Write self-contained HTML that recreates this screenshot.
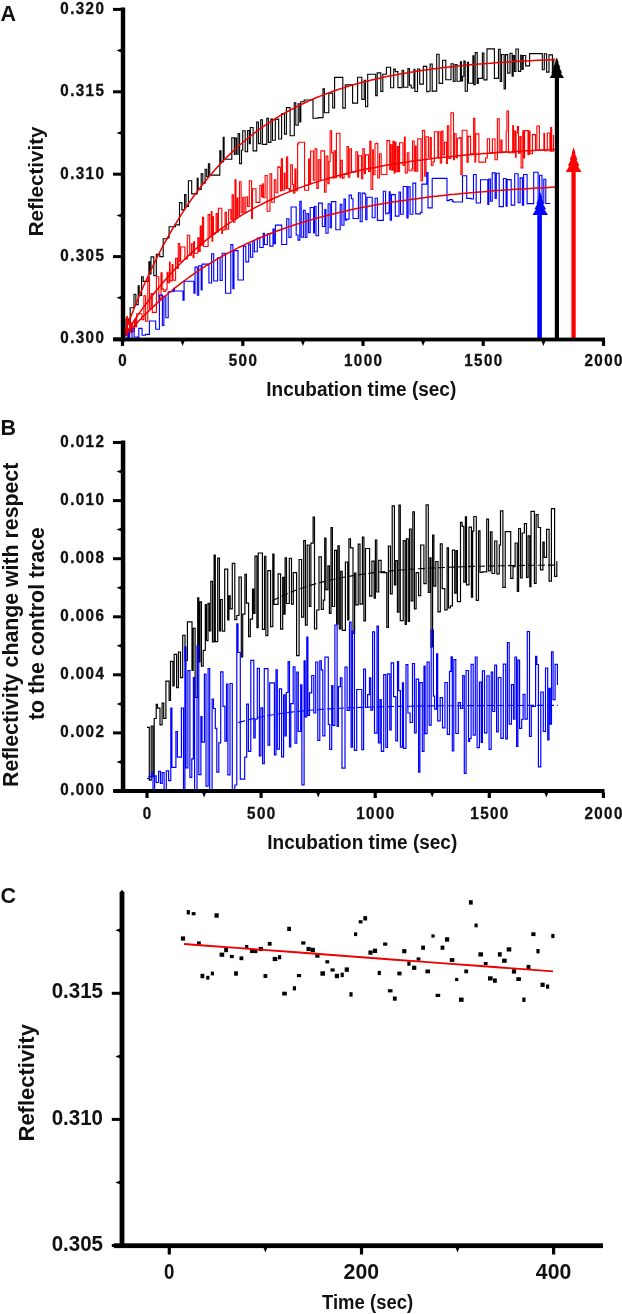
<!DOCTYPE html>
<html><head><meta charset="utf-8"><title>Reflectivity figure</title>
<style>html,body{margin:0;padding:0;background:#fff;width:622px;height:1314px;overflow:hidden}svg{display:block;filter:blur(0.4px)}</style>
</head><body>
<svg width="622" height="1314" viewBox="0 0 622 1314">
<rect width="622" height="1314" fill="#fff"/>
<!-- Panel A traces -->
<g fill="none" stroke-width="1.12" stroke-linejoin="miter">
<path d="M122.5 334.5H124.1V332.6H126V318.8H128.2V324H130.2V307.8H131.1V307.8H132.4V307.8H134V294.2H135.9V304.6H138.2V285.8H139.2V295.5H141.6V276.8H143.2V281.4H145.4V281.4H146.4V281.4H148.9V261.7H149.8V274H151V256.9H152.5V256.9H153.8V275.8H156.3V254.4H157.9V254.4H159.8V256.6H161.7V256.6H163.2V238.7H164.2V238.7H166.1V238.7H167.3V237.9H169.1V226.8H170V226.8H171.7V226.8H173.8V226.8H175.4V224.9H177.9V224.9H179.5V202.6H181.9V209.9H182.8V209.9H184.6V194.6H186V206.5H188.4V180.7H189.3V180.7H190.7V180.7H191.7V193.9H193.7V193.9H196.2V193.9H197.2V178.4H198.1V189.4H198.9V189.4H199.9V189.4H201.2V173.9H202.8V183.1H204.2V183.1H205.1V169.2H206.7V176.7H208.4V163.9H209.7V175.1H211.8V175.1H213V175.1H215.4V175.1H216.5V175.1H218.8V175.1H219.8V150.9H221V162H223.2V137.4H224.1V159.2H225V159.2H226.6V159.2H228.8V159.2H229.9V159.2H231.8V137.7H234.3V154.4H235.1V138.1H236.6V154.2H238.1V133.5H239.6V163.6H241.5V150.2H242.7V130.8H245.2V151.8H247.6V130.5H249.3V143.6H250.3V127.5H251.4V127.5H253.1V150.9H255.5V150.9H256.7V122H258.4V143.6H260.7V119.7H262.4V144.4H264.3V144.4H266.8V118.4H268.4V142.4H270.9V119.1H272.5V140.2H274V140.2H275.3V119.1H277.3V119.1H278.7V139H280.4V139H281.6V113.9H283.3V113.9H284.5V134.1H286.4V107.6H288.8V107.6H290.1V135.8H291.2V135.8H293.3V135.8H294.3V102.8H295.8V125.2H298.2V103.7H299.8V121.9H300.8V101.8H301.9V101.8H304.2V100H306.1V100H307.2V100H308.7V100H309.9V100H311.8V100H313V118.3H314.9V118.3H317V118.3H318V117.6H319.8V117.6H322V117.6H323V88.9H324.4V112.8H325.6V112.8H327.8V112.8H328.8V93.1H330.8V93.1H332.7V108H334.6V77.4H336.7V77.4H338.2V77.4H339.4V77.4H340.4V77.4H342.8V108.1H345.3V84.9H347.7V84.9H350.2V84.9H352.6V103.1H354.3V103.1H355.8V103.1H357.6V77.3H359.7V77.3H361.8V99.4H362.7V99.4H364.2V80.4H365.5V106.7H367.7V74.3H369.7V74.3H371.2V74.3H373.5V74.3H374.6V74.3H375.7V95.6H377.2V72.9H378.4V72.9H380.8V91.4H382.8V74.2H383.9V74.2H386.4V67.2H387.3V67.2H388.5V67.2H390.6V87.7H392.3V87.7H393.7V69.1H395.3V71.6H396.8V71.6H397.9V87.6H400.1V87.6H402.1V70.2H403.6V87.2H404.6V87.2H406.6V87.2H407.9V68.6H409.4V85.1H411.2V88H412.5V88H414V69.2H414.9V91.5H416.4V91.5H417.5V69H419.7V84.1H421.1V84.1H423.3V66.4H424.8V66.4H425.8V66.4H426.7V91.7H428.7V91.2H430.1V64H432.2V91.1H433.6V91.1H435.1V91.1H436.7V54.3H439.1V83.4H441.1V83.4H442.6V60.3H444.7V60.3H445.8V79.7H447.9V79.7H449.1V79.7H451V63.8H453.3V81.4H455.1V64.6H457V81.2H458.2V81.2H460.4V61.8H461.4V80.9H462.6V76.2H463.9V61.1H465.2V91.3H467.4V62.4H468.5V83.2H470.7V83.2H472.9V55.8H473.8V84.6H475.2V52.6H476.1V52.6H477.2V83.5H478.3V78.4H479.9V78.4H482.4V53.1H483.9V79.9H485.8V79.9H487V48.9H489.1V48.9H491.3V48.9H492.4V48.9H494.4V78.4H496.2V78.4H497.4V78.4H498.5V49.2H500.2V81.5H501.6V54.5H504.1V89H505.5V54.6H507.7V73.1H510V53.2H512.1V76.1H513.2V55.6H514.5V71.5H515.9V49H518.3V71.4H520.7V55.2H522V69.5H523.2V55.5H525.7V65.9H527.7V65.9H529.6V53.6H530.7V53.6H532.5V53.6H534.2V53.6H536V53.6H537.9V53.6H539.9V53.6H542.3V69.7H544.3V53.8H546.6V72.1H549V54.9H550.3V54.9H552.4V76.7H553.8V58.5" stroke="#000"/>
<path d="M122.5 329.9H123.3V329.9H124.3V329.9H125.9V335.4H126.7V316.6H127.4V334.1H128V334.1H129.7V318.1H130.4V332.1H131.2V323.1H132.3V332H132.9V330.9H134.4V319.2H135.6V326.8H136.7V313.8H138.2V313.8H139.5V313.8H140.9V313.8H141.9V319.6H142.7V319.6H143.9V295.7H145.6V321.2H146.2V321.2H147.8V277.9H149.5V308.8H151.1V293.6H152.3V312.4H153.1V312.4H154.7V312.4H156.4V276.7H157.4V276.7H158.8V300.9H159.7V298.6H161V272.8H162.1V289.1H163.7V291.4H164.8V291.4H165.8V289.5H167.1V272.4H168.1V282.7H169.5V262.1H170.1V280.9H171.1V280.9H172.1V264.6H173V280.2H174.4V280.2H175.6V258.2H177.2V268.4H178.3V243.6H179.7V261.4H180.7V247H181.7V247H183.2V247H184.9V258.9H185.9V258.9H187.3V235.2H188.7V235.2H189.7V255.3H190.5V255.3H191.5V243.8H193.1V257.7H193.9V241.5H194.5V253.3H196V253.3H196.8V253.3H197.8V237.8H199V251.4H200.2V226.1H201.3V245.1H202.5V217.2H203.6V246.5H204.4V246.5H205.1V246.5H205.8V246.5H206.7V246.5H208.1V214.6H209.7V236.4H211.3V211.6H212V241.1H212.7V216.8H213.5V234.4H214.8V232.8H216.1V213.6H217.4V231.9H218.4V208.3H219.5V208.3H220.8V208.3H221.8V233.4H222.5V229.9H224.1V229.9H225.1V212.4H226.4V229.3H227.6V229.3H228.6V209.8H229.4V209.8H230.1V209.8H230.9V219.4H232.1V194.8H233.4V222.3H235V179.8H236V218.7H237.2V198.1H238V215.1H239.5V181.8H241.1V212.8H242.7V197.2H243.4V197.2H244.1V212.7H245.8V197.1H247.6V206.4H249.3V180.7H250.4V180.7H251.6V218.4H252.5V188.7H253.6V188.7H255V188.7H256V202.4H257.6V202.4H259.2V202.4H259.9V185.4H261.6V196.7H262.8V183.9H263.4V197.8H265.1V175.5H266.1V175.5H267.1V211.3H268.4V211.3H270V173.7H271.7V202.3H273.2V202.2H274.3V179.9H275.9V192.8H276.6V192.8H277.8V166.9H279.3V167.5H280.5V191H281.3V158.9H282.5V190.2H284.2V173.1H285V188.8H286.5V157H287.7V188.5H289.4V191.2H290.7V164.7H292.4V184.4H293.5V192.9H294.9V169.1H296V190.8H297.6V143.9H298.7V142.2H300.4V142.2H301.9V142.2H303.2V142.2H304.6V190.3H305.6V190.3H306.6V190.3H307.6V190.3H308.6V159.1H309.4V184.5H310.6V151H311.7V151H313.4V180.3H315V148.7H315.6V148.7H316.8V188.4H318.3V159.8H319.3V159.8H320V180.3H320.9V150.9H322.2V150.9H323.8V150.9H324.5V192.1H326.1V156.1H327.8V183.6H329.1V161.5H330.1V130.7H331.6V152.9H333.2V178.2H334V150.8H335.5V177.6H336.4V133.3H338.2V133.3H340V177.6H340.8V160.4H342.4V178.1H344.1V174.4H345.2V174.4H347V146.5H348.4V177.2H349.8V148.8H351.5V171.9H353.1V171.9H354.8V171.9H355.9V151.7H357V151.7H357.6V176.9H358.6V155.7H360.3V155.7H361.5V178.6H362.8V148.9H364.3V173.4H365.5V154.9H366.7V154.9H368.5V171.5H369.8V141.4H371V189.5H372.7V149.8H373.4V174.8H375V143.7H376.3V143.2H377.8V178H379.5V153.7H381.2V174.5H383V174.5H384.5V174.5H385.3V174.5H386.9V140.6H388.5V140.6H389.7V169.8H390.5V144.7H391.8V170.3H392.9V141.2H394.1V173.2H394.8V142.1H395.9V171.7H397.3V146.6H398.5V171.6H399.6V142.7H401.2V142.7H402.9V165.5H404.4V137.1H405.2V172.9H406.3V172.9H407.3V152.9H408.9V170.7H410.4V170.7H411.8V169H412.5V141H414.2V171.3H415.4V146H416.2V171.2H417.7V138.7H419.5V138.7H421V181H421.8V181H422.5V130.6H423.3V130.4H424.7V176.1H426V136.8H427.4V136.8H428.4V157.3H430.1V137.6H431.3V165.5H433V161.9H434.4V131.7H435.3V131.7H436.2V131.7H437.2V131.7H437.8V157.6H438.5V131.7H440.3V162.9H441.7V131.1H443V155H444.5V142.2H445.7V142.2H446.5V163.5H447.4V125.9H448.8V158.5H450.2V158.5H450.9V112.8H452.3V112.8H453.5V159.8H454.4V133.8H456.1V157.7H457.3V138.2H458.7V138.2H459.8V137.6H460.9V174.8H462.2V130.2H463V130.2H464.7V130.2H465.6V130.2H467V162.1H468.2V136.4H469.8V136.4H470.6V153.7H472.4V153.7H473.6V118.4H474.9V161.9H475.7V133.9H477.1V133.9H478.9V162.1H480.6V162.1H481.8V162.1H483.2V162.1H483.9V162.1H485.6V158H487.3V138.8H488.3V138.8H489.6V153.4H491.3V153.4H492.4V139H493.7V139H495V159.8H496.2V159.8H497.4V118.7H499.2V152.3H500.8V140H502V152H503.6V152.3H505V152.3H506.2V131.3H506.9V111.1H507.8V111.1H508.5V152.6H509.3V152.7H510.9V152.7H512.7V125.7H513.5V152.7H514.2V131.1H515.5V157.1H516.1V132.9H517.4V126.5H518.5V153.1H519.9V136.5H521.1V167.9H522.8V130.9H523.7V157.9H524.6V130.6H526.2V130.6H528V154.7H529V131.1H530V153.8H531.3V153.8H532.4V134.6H533.8V134.6H535.5V150.3H536.9V126H538.7V126H539.4V150.3H541.1V150.3H542.1V150.3H542.9V150.3H543.9V133.2H544.6V150.6H545.6V150.6H547.3V133H548.2V133H549.1V133H549.9V151.2H550.7V127.6H551.7V151.3H553.5V134.9" stroke="#f00"/>
<path d="M122.5 332.3H124.8V332.3H126V332.3H127.2V338H128.6V329.3H129.5V338.7H132V328.4H134.1V337H135.5V337H137.7V337.4H138.8V328.4H140.5V328.4H142.1V335.3H143.3V335.3H144.5V335.3H145.5V334.4H147.8V334.4H149.4V321H151.5V321H153.7V321H155.7V329.2H157.7V329.2H159.4V295.1H161.2V295.1H162.4V325.4H163.9V296.3H165.8V317.8H168.2V291.8H170.5V291.8H171.9V291.8H173.7V288.4H174.5V291H176.8V291H178.7V291H179.9V291H181.1V291H182V291H183V300.3H184.1V281.3H185.7V281.3H188V281.3H190.2V281.3H191.6V281.3H192.5V281.3H193.9V293.3H195V267.1H196.1V267.1H197.3V295.3H198.7V265.8H201.2V290H202.1V264.1H204.2V264.1H205.7V264.1H207.5V264.1H208.9V283H210.2V283H211.6V253.7H213.7V281H215.2V281H216.3V281H217.6V257.7H220.1V280.4H222.2V253.2H224V253.2H225.5V293.3H226.6V293.3H228.4V293.3H230.8V244.6H232.9V288.8H234V250.6H236.4V250.6H238V280H240.1V280H241.3V280H243.4V246.1H245.8V261.9H247.6V261.9H248.7V244.1H250.5V257.2H252.8V240.8H254.4V251.7H256.3V251.7H257.3V238H259.8V247.5H260.8V247.5H261.9V247.5H263.2V233.4H264.4V244.5H265.4V244.5H266.6V244.5H267.4V233.9H269.8V246.1H272V246.1H273V229H274.1V243.6H275.4V225.1H277.5V225.1H279.4V225.1H281.7V244.5H283.1V244.5H284.6V244.5H286.7V218.8H288.1V218.8H288.9V237.4H291.1V207H292.4V207H294.8V207H296.2V235H298V240.1H299.8V201.3H301.2V237.2H303.4V210.2H305.2V237.5H306.9V213.5H308.6V232.8H310.2V207.5H312V207.5H313.6V233H314.5V206.2H316V235.8H318.5V203.1H320.2V203.1H322.3V226.5H324.8V209.5H325.9V233.2H328.1V203.8H330.1V227.8H331.4V201.6H333.1V201.6H334.9V201.6H335.8V229.8H338.3V229.8H340.2V204.4H341.9V225.3H344V199.1H345.4V220.2H346.6V219.1H349.1V195.1H351.4V198.8H353V218.5H354.6V218.5H356.9V218.5H358.4V192.7H360.2V221.7H362.2V193.1H364.6V194H365.7V219.6H367V197.3H368.8V197.3H369.7V197.3H372.2V217.8H374.1V217.8H375.1V198.2H376V198.2H377.4V220.4H379.8V220.4H382.2V220.4H383.3V191.2H385.6V213.8H386.6V213.8H388V212.9H389.2V191.8H390.2V220.3H391.5V194.6H393.2V194.6H394.1V194.6H395.3V216.1H397V216.1H399V192H400.5V214.3H402.1V214.3H403.2V186.5H405.1V186.5H406.9V218H408.1V186.9H410.1V214.2H411.6V214.2H412.9V183.1H414.6V183.1H415.7V213.9H418V213.9H420.4V212.4H421.9V184.1H424.3V184.1H426.8V172.5H428V207.9H430.1V207.9H432.2V178.4H434.5V178.4H436.9V178.4H438.8V178.4H440V178.4H442.5V178.4H443.4V178.4H445.3V178.4H447V200.6H449.3V199.6H451.1V199.6H452.3V201.4H453.5V202H455.3V202H457.3V202H459.7V202H461.6V202H462.5V175.7H464.1V175.7H465.8V175.7H466.7V198.4H468.9V198.4H471.1V199H473.5V174.5H475.2V174.5H476.2V203H478.6V203H480.5V179.8H481.9V179.8H483.1V179.8H485.4V179.8H487.8V204.4H488.8V179.1H490.4V201.3H492.2V172.9H493.6V172.9H495.1V198.5H496.3V173.3H497.3V173.3H499.2V206.6H500.8V206.6H502.6V206.6H503.4V178.5H505.1V178.5H506.1V206.1H507.1V179.6H509.4V179.6H511.2V205.1H513.2V205.1H514.7V173.7H516.5V173.7H518.1V202.8H520.1V177.9H522.4V205.2H523.6V174.5H525.1V174.5H527.1V203.6H529.5V203.6H532V203.6H533.7V172.2H535.6V172.2H538.1V206.2H539.6V175.2H542V203.5H543.8V179.3H545.8V203.5H547V203.5H548.9V203.5H550.4V203.5" stroke="#00f"/>
<path d="M122.5 339L126.1 329.1L129.7 319.6L133.3 310.4L136.9 301.5L140.5 292.9L144.1 284.7L147.8 276.7L151.4 269L155 261.6L158.6 254.4L162.2 247.4L165.8 240.8L169.4 234.3L173 228.1L176.6 222.1L180.2 216.3L183.8 210.7L187.4 205.3L191 200L194.6 195L198.3 190.2L201.9 185.5L205.5 180.9L209.1 176.6L212.7 172.4L216.3 168.3L219.9 164.4L223.5 160.6L227.1 156.9L230.7 153.4L234.3 150L237.9 146.7L241.5 143.5L245.2 140.4L248.8 137.5L252.4 134.6L256 131.9L259.6 129.2L263.2 126.6L266.8 124.2L270.4 121.8L274 119.5L277.6 117.2L281.2 115.1L284.8 113L288.4 111L292.1 109.1L295.7 107.2L299.3 105.4L302.9 103.7L306.5 102L310.1 100.4L313.7 98.8L317.3 97.3L320.9 95.9L324.5 94.5L328.1 93.1L331.7 91.8L335.3 90.5L338.9 89.3L342.6 88.1L346.2 87L349.8 85.9L353.4 84.8L357 83.8L360.6 82.8L364.2 81.9L367.8 81L371.4 80.1L375 79.2L378.6 78.4L382.2 77.6L385.8 76.8L389.5 76.1L393.1 75.4L396.7 74.7L400.3 74L403.9 73.4L407.5 72.8L411.1 72.2L414.7 71.6L418.3 71L421.9 70.5L425.5 70L429.1 69.5L432.7 69L436.4 68.5L440 68.1L443.6 67.6L447.2 67.2L450.8 66.8L454.4 66.4L458 66L461.6 65.7L465.2 65.3L468.8 65L472.4 64.6L476 64.3L479.6 64L483.2 63.7L486.9 63.4L490.5 63.2L494.1 62.9L497.7 62.6L501.3 62.4L504.9 62.2L508.5 61.9L512.1 61.7L515.7 61.5L519.3 61.3L522.9 61.1L526.5 60.9L530.1 60.7L533.8 60.5L537.4 60.3L541 60.2L544.6 60L548.2 59.9L551.8 59.7L555.4 59.6" stroke="#e00" stroke-width="1.5"/>
<path d="M122.5 339L126.1 333.1L129.7 327.5L133.3 321.9L136.9 316.6L140.5 311.4L144.1 306.4L147.8 301.5L151.4 296.8L155 292.2L158.6 287.7L162.2 283.4L165.8 279.2L169.4 275.2L173 271.2L176.6 267.4L180.2 263.7L183.8 260.1L187.4 256.6L191 253.2L194.6 250L198.3 246.8L201.9 243.7L205.5 240.7L209.1 237.8L212.7 235L216.3 232.3L219.9 229.6L223.5 227.1L227.1 224.6L230.7 222.2L234.3 219.8L237.9 217.6L241.5 215.3L245.2 213.2L248.8 211.1L252.4 209.1L256 207.2L259.6 205.3L263.2 203.5L266.8 201.7L270.4 200L274 198.3L277.6 196.7L281.2 195.1L284.8 193.6L288.4 192.1L292.1 190.7L295.7 189.3L299.3 187.9L302.9 186.6L306.5 185.3L310.1 184.1L313.7 182.9L317.3 181.8L320.9 180.6L324.5 179.6L328.1 178.5L331.7 177.5L335.3 176.5L338.9 175.5L342.6 174.6L346.2 173.7L349.8 172.8L353.4 172L357 171.1L360.6 170.3L364.2 169.5L367.8 168.8L371.4 168.1L375 167.4L378.6 166.7L382.2 166L385.8 165.3L389.5 164.7L393.1 164.1L396.7 163.5L400.3 162.9L403.9 162.4L407.5 161.9L411.1 161.3L414.7 160.8L418.3 160.3L421.9 159.9L425.5 159.4L429.1 159L432.7 158.5L436.4 158.1L440 157.7L443.6 157.3L447.2 156.9L450.8 156.5L454.4 156.2L458 155.8L461.6 155.5L465.2 155.1L468.8 154.8L472.4 154.5L476 154.2L479.6 153.9L483.2 153.6L486.9 153.4L490.5 153.1L494.1 152.8L497.7 152.6L501.3 152.4L504.9 152.1L508.5 151.9L512.1 151.7L515.7 151.4L519.3 151.2L522.9 151L526.5 150.8L530.1 150.7L533.8 150.5L537.4 150.3L541 150.1L544.6 149.9L548.2 149.8L551.8 149.6L555.4 149.5" stroke="#e00" stroke-width="1.5"/>
<path d="M122.5 339L126.1 334.8L129.7 330.7L133.3 326.8L136.9 322.9L140.5 319.2L144.1 315.5L147.8 312L151.4 308.5L155 305.1L158.6 301.8L162.2 298.6L165.8 295.5L169.4 292.5L173 289.5L176.6 286.7L180.2 283.9L183.8 281.1L187.4 278.5L191 275.9L194.6 273.4L198.3 270.9L201.9 268.6L205.5 266.2L209.1 264L212.7 261.8L216.3 259.6L219.9 257.6L223.5 255.5L227.1 253.5L230.7 251.6L234.3 249.8L237.9 247.9L241.5 246.2L245.2 244.4L248.8 242.7L252.4 241.1L256 239.5L259.6 238L263.2 236.5L266.8 235L270.4 233.5L274 232.2L277.6 230.8L281.2 229.5L284.8 228.2L288.4 226.9L292.1 225.7L295.7 224.5L299.3 223.4L302.9 222.2L306.5 221.2L310.1 220.1L313.7 219L317.3 218L320.9 217.1L324.5 216.1L328.1 215.2L331.7 214.3L335.3 213.4L338.9 212.5L342.6 211.7L346.2 210.9L349.8 210.1L353.4 209.3L357 208.5L360.6 207.8L364.2 207.1L367.8 206.4L371.4 205.7L375 205.1L378.6 204.4L382.2 203.8L385.8 203.2L389.5 202.6L393.1 202L396.7 201.5L400.3 200.9L403.9 200.4L407.5 199.9L411.1 199.4L414.7 198.9L418.3 198.4L421.9 197.9L425.5 197.5L429.1 197L432.7 196.6L436.4 196.2L440 195.8L443.6 195.4L447.2 195L450.8 194.6L454.4 194.3L458 193.9L461.6 193.5L465.2 193.2L468.8 192.9L472.4 192.6L476 192.3L479.6 191.9L483.2 191.7L486.9 191.4L490.5 191.1L494.1 190.8L497.7 190.6L501.3 190.3L504.9 190L508.5 189.8L512.1 189.6L515.7 189.3L519.3 189.1L522.9 188.9L526.5 188.7L530.1 188.5L533.8 188.3L537.4 188.1L541 187.9L544.6 187.7L548.2 187.5L551.8 187.3L555.4 187.1" stroke="#e00" stroke-width="1.5"/>
</g>
<!-- arrows -->
<rect x="537.3" y="205" width="4.6" height="136" fill="#00f"/>
<rect x="554.8" y="70" width="4.2" height="271" fill="#000"/>
<rect x="571.4" y="165" width="4.3" height="176" fill="#f00"/>
<polygon fill="#000" points="556.8,57.3 558.6,62.5 558.1,62.5 560.4,67.7 559.4,67.7 562.2,72.8 560.7,72.8 564.0,78.0 549.6,78.0 552.9,72.8 551.4,72.8 554.2,67.7 553.2,67.7 555.5,62.5 555.0,62.5"/><polygon fill="#f00" points="573.6,147.3 575.6,153.5 575.0,153.5 577.5,159.7 576.4,159.7 579.5,165.8 577.8,165.8 581.4,172.0 565.8,172.0 569.4,165.8 567.8,165.8 570.8,159.7 569.7,159.7 572.2,153.5 571.6,153.5"/><polygon fill="#00f" points="540.2,192.3 542.2,198.0 541.6,198.0 544.1,203.7 543.0,203.7 546.1,209.3 544.4,209.3 548.0,215.0 532.4,215.0 536.0,209.3 534.4,209.3 537.4,203.7 536.3,203.7 538.8,198.0 538.2,198.0"/>
<!-- Panel A axes -->
<g fill="#000">
<rect x="120.8" y="7.5" width="4.4" height="334"/>
<rect x="113" y="337.6" width="492" height="3.8"/>
</g>
<!-- Panel B traces -->
<g fill="none" stroke-width="1.18">
<path d="M147 727.4H149.3V780.1H151.2V726H152.9V776.8H154.2V718.5H156.2V704.3H157.5V708.1H160V724.9H162.1V703.2H163.7V718.3H165.9V681.2H167.2V681.2H169.1V700.5H170.5V661.3H172.9V686H174.2V654.4H176.6V687.6H178.4V652H180.5V677.7H182.7V635.3H185V660.5H187.4V621.8H189.6V621.8H192V670.3H193.2V628.3H195.1V697.5H197.7V597.8H198.8V661.9H199.9V601.9H201.4V666.1H203.2V650.3H205.3V604.6H206.4V640.6H208V603.4H209.4V631H210.8V581.3H212.5V641.9H214.1V555H215.3V641.6H217.7V558.1H219.4V630.9H220.5V599.6H222.3V631.1H224.7V569.2H225.8V569.2H227.7V620H228.9V595.8H230.2V608.8H232.3V563.3H234.8V619.7H236.8V615.5H239V577.1H241.3V657H242.7V614.1H244.9V574.3H246.4V603.1H248.6V636.7H250.3V619.1H252.5V589.2H253.7V613.3H255V556.1H256.9V627.6H258.2V553H260.3V553H262.4V629.3H264.5V556.4H265.9V635.7H267.8V570.7H269.2V570.7H270.6V626.6H272.8V554.2H274V604.3H276.3V604.3H278.1V573.9H280.6V629.2H282.7V577.3H284V614.1H285.1V557.9H286.5V603.5H287.9V603.5H289.3V558.3H291.5V604.1H293.3V572.7H294.5V572.7H296.6V655.6H299.1V559.5H301.6V617.2H303.7V540.7H305.4V625.1H307.2V545H309.3V606.4H310.9V543.1H313.1V517.1H314.5V629H316.7V610H319V556.9H321.3V609.4H323.3V600.2H324.7V538.1H326V589.6H327.9V565.8H329.4V613.3H331V527.7H332.4V606.5H334.6V550.4H336.6V624.1H337.9V545.9H339.3V628.8H340.7V571.3H342.2V630.4H343.9V630.4H345.4V562H347.7V619.9H348.9V538.8H350.5V547.9H353V633.4H354.6V573.2H355.9V604.8H358.2V544.2H360V604.1H362.4V537.2H363.9V620.9H365.5V548.5H367.6V548.5H369.6V596.2H371.9V561.2H374.1V598.1H375.4V540.1H376.8V592H378.7V560.4H381.1V572.7H382.6V572.7H385V572.7H386.8V627.4H388.4V546H390.4V593.8H392.2V505.9H394.4V584.8H395.7V560.6H397.4V612.2H398.9V505.1H400.3V620.6H401.5V620.6H403.2V540.6H405.1V624.3H406.4V538.8H408.2V621.3H409.5V529H411.2V600.9H412.8V511.8H414.4V608.9H416.1V572.6H418.6V595.6H420.7V545H422.7V545H423.9V583.7H426.1V504.8H428.3V592.5H429.9V557.9H431V646.8H432.6V535.2H433.9V586.2H435.8V561.5H438V611.9H440.3V543.8H442.2V588.6H444.8V609.9H447.1V547.9H448.5V607.8H450.4V605.8H452.4V550.2H454.7V593.1H456.1V550.6H457.4V601.6H458.5V601.6H460.5V522.3H462.1V526.4H463.8V582.1H465.4V516.8H466.5V584.9H469V527.1H471.4V597.2H472.6V531.1H473.8V516.5H476.3V600.3H478.5V530.9H480V572.4H482.5V571.8H484.3V571.8H486.7V519.1H488.5V570.8H490.4V531.9H492V573.5H493.4V573.5H494.7V541H496.9V573.9H499.3V545.2H500.5V510.8H502.9V587.3H505.2V531.6H506.3V531.6H508.2V531.6H510.7V578.4H513V566.6H515.1V543H517.3V591.4H518.6V528.5H520.5V577.8H522.2V533H524.4V523.6H526.5V577.3H528.1V535.8H529.8V586.6H531V511.3H533V511.3H534.4V583.4H536.1V514.6H538.1V527.5H540.5V569.9H542.9V542.2H544.2V557.4H546.6V529.4H549.1V581.1H551.4V508.7H553.1V508.7H554.6V576.3H556.8V561.2" stroke="#000"/>
<path d="M147 778.5H149.2V776.3H151.6V772.1H153V791H154.6V775.8H156.2V782.5H158.6V771.3H160.5V783.3H162.2V772.7H164.1V791H166.3V770.9H168.6V780.6H170.8V708.1H171.9V767.3H173.4V767.3H175.9V731.5H177.4V757.1H179.7V757.1H181.4V708H183.5V791H184.9V646.9H186V767.9H187.9V670.7H189.9V777.3H191.8V758.9H193.4V677.6H194.6V789.6H197V645.9H198.8V774.7H200.9V716.7H202V742.1H204.4V674H206V786.1H208.1V668.7H209.7V790.1H212.1V699H213.5V708.5H215.3V728.4H216.8V772.1H218.8V742.8H220.7V671.9H223V706.3H224.9V741.1H226.5V684.2H227.9V774.8H230V683.5H232.3V789.5H234.8V785H236.8V623.8H238V652.5H240.3V779.1H242.4V779.1H244.7V757.1H246.7V704.2H248.4V751.4H250.8V660.4H252V660.4H253.8V737.9H255.2V719.1H257.3V668.4H259.4V755.9H260.9V707.9H262.6V763.6H264.3V668.7H266.8V668.7H268V745.1H269.7V682.9H272.2V682.9H274.4V754.8H276V669.8H277.3V749.2H279.4V688.8H281.6V756.8H283.6V694.8H285V736H286.3V692.5H288.1V661.6H289.5V747H290.8V703.7H293.2V666.9H295V743.1H296.8V672.2H298.3V731.5H300.7V684.8H301.9V784.9H304.1V660.9H305.2V716.9H306.8V637.2H307.9V715.4H309.5V692.8H311.7V675.5H313.8V713H315.7V662H317.8V740.3H319.8V660.9H321.3V669.8H322.8V735.8H324.9V657.1H326.6V657.1H328.3V724.5H329.7V749.4H331.7V685.6H332.9V725.3H334.9V625H337.1V726.4H338.4V686.7H340.4V677.8H342V768.1H343.6V768.1H345V667.1H347.1V710.3H349.5V622.2H351.1V747.2H352.4V631H354.4V750.3H356.7V689.5H358V689.5H360.1V689.5H361.8V749.6H363.6V669.2H365.5V707.4H367.6V694.7H369.5V677.9H370.8V710.2H372.6V631.9H374.5V733.1H377V626.2H378.4V742.8H380V699.5H381.3V751.4H383.7V674.6H385.8V747.5H387.5V673.9H389.8V729.9H391.2V662.8H393.6V696.6H395.8V740.8H397.5V661.6H398.6V690.6H400.4V747.2H402.4V682.8H403.5V748.3H406V664.7H407.9V713H410.1V722.5H412.5V663.6H414.5V732.8H416.2V679.1H418.6V772.2H419.9V682.7H422.3V751.3H424V666.1H425.1V733.7H427.1V662.2H429.2V725.1H431.2V630.1H433.4V696.1H434.6V709.1H436.6V653.8H437.7V720.9H440.2V697.7H442.5V727.8H444.9V682.5H447.3V734.4H449.5V671.4H451.1V656.9H452.3V750.8H453.8V659.6H455.8V733.5H458.3V702.7H460.4V708.4H462.7V675.5H464.3V773.3H466.1V670.5H468.5V741.3H469.6V738.7H471.1V664.3H473.2V735.1H475.3V657H477.1V747.7H479.4V682.2H481.2V742.5H482.4V670.9H484.5V732.8H486.9V675.9H489.1V749.3H491.2V672H492.7V711.5H494.7V665.2H496.6V731.8H498.3V677.5H500.9V738.4H503.3V664.1H505.7V738.8H507.4V642.5H509.2V724.2H511.4V684.7H513.4V719.2H514.9V657H516.6V746.3H517.9V660.1H519.6V728.3H521.7V719.5H523.1V694.3H525V719.1H527.3V631.5H529.5V736.3H531.3V706.4H533.3V706.4H535.6V656.4H536.8V664.5H538.4V766.9H540.8V692H543.3V731.4H545.5V668H547.7V740H549V688.4H550.2V724.2H551.5V651.9H553.1V699.6H555.1V664.4H557.4V685.1" stroke="#00f"/>
<path d="M272.5 600.7L277.3 598.3L282 596L286.8 593.9L291.5 591.9L296.3 590.1L301 588.4L305.8 586.8L310.5 585.3L315.3 583.9L320.1 582.6L324.8 581.4L329.6 580.2L334.3 579.2L339.1 578.2L343.8 577.3L348.6 576.4L353.3 575.6L358.1 574.9L362.8 574.2L367.6 573.5L372.3 572.9L377.1 572.3L381.9 571.8L386.6 571.3L391.4 570.9L396.1 570.4L400.9 570L405.6 569.7L410.4 569.3L415.1 569L419.9 568.7L424.6 568.4L429.4 568.1L434.2 567.9L438.9 567.7L443.7 567.5L448.4 567.3L453.2 567.1L457.9 566.9L462.7 566.7L467.4 566.6L472.2 566.4L476.9 566.3L481.7 566.2L486.4 566.1L491.2 566L496 565.9L500.7 565.8L505.5 565.7L510.2 565.6L515 565.5L519.7 565.5L524.5 565.4L529.2 565.3L534 565.3L538.7 565.2L543.5 565.2L548.3 565.1L553 565.1L557.8 565" stroke="#000" stroke-width="1.1" stroke-dasharray="7 3"/>
<path d="M238.3 722.6L243.6 721.1L248.9 719.7L254.3 718.4L259.6 717.2L264.9 716.2L270.2 715.2L275.6 714.3L280.9 713.5L286.2 712.8L291.5 712.1L296.9 711.5L302.2 711L307.5 710.5L312.8 710L318.1 709.6L323.5 709.2L328.8 708.9L334.1 708.6L339.4 708.3L344.8 708L350.1 707.8L355.4 707.6L360.7 707.4L366.1 707.2L371.4 707L376.7 706.9L382 706.7L387.4 706.6L392.7 706.5L398 706.4L403.3 706.3L408.7 706.2L414 706.1L419.3 706.1L424.6 706L430 705.9L435.3 705.9L440.6 705.8L445.9 705.8L451.3 705.7L456.6 705.7L461.9 705.7L467.2 705.6L472.6 705.6L477.9 705.6L483.2 705.6L488.5 705.5L493.9 705.5L499.2 705.5L504.5 705.5L509.8 705.5L515.2 705.5L520.5 705.5L525.8 705.4L531.1 705.4L536.5 705.4L541.8 705.4L547.1 705.4L552.4 705.4L557.8 705.4" stroke="#00f" stroke-width="1.1" stroke-dasharray="7 3"/>
</g>
<g fill="#000">
<rect x="120.8" y="440.5" width="4.5" height="352"/>
<rect x="113.5" y="789" width="491" height="4"/>
</g>
<!-- Panel C -->
<g fill="#000"><rect x="180.9" y="936.4" width="4.2" height="4.2"/><rect x="186.7" y="910.1" width="3.2" height="4.4"/><rect x="191.7" y="912.1" width="3.8" height="3.2"/><rect x="197.0" y="941.4" width="3.8" height="3.2"/><rect x="214.5" y="913.3" width="4.2" height="4.4"/><rect x="200.5" y="973.8" width="3.8" height="4.4"/><rect x="206.2" y="975.8" width="3.2" height="3.8"/><rect x="210.8" y="971.6" width="3.2" height="3.8"/><rect x="219.6" y="952.6" width="4.6" height="4.2"/><rect x="224.2" y="947.8" width="3.8" height="4.4"/><rect x="229.9" y="954.9" width="3.8" height="3.2"/><rect x="234.1" y="971.3" width="3.8" height="4.4"/><rect x="239.5" y="956.4" width="3.8" height="3.8"/><rect x="245.1" y="945.0" width="3.2" height="3.2"/><rect x="250.1" y="949.3" width="3.8" height="3.8"/><rect x="253.6" y="949.3" width="3.8" height="3.8"/><rect x="258.7" y="946.9" width="4.2" height="4.2"/><rect x="263.5" y="974.1" width="3.8" height="3.8"/><rect x="267.8" y="941.9" width="3.8" height="3.8"/><rect x="272.7" y="956.9" width="4.6" height="4.2"/><rect x="278.0" y="955.1" width="3.2" height="4.2"/><rect x="282.2" y="991.7" width="4.6" height="3.8"/><rect x="287.2" y="926.8" width="3.8" height="4.2"/><rect x="292.8" y="986.2" width="3.2" height="4.2"/><rect x="296.9" y="974.0" width="4.2" height="3.2"/><rect x="301.2" y="941.4" width="4.2" height="3.2"/><rect x="306.5" y="946.9" width="4.2" height="4.2"/><rect x="310.7" y="947.8" width="4.2" height="4.4"/><rect x="315.3" y="953.9" width="4.2" height="3.8"/><rect x="320.4" y="971.3" width="4.6" height="4.4"/><rect x="325.4" y="960.2" width="3.8" height="3.2"/><rect x="330.5" y="968.4" width="4.2" height="3.2"/><rect x="334.8" y="973.8" width="4.2" height="4.4"/><rect x="340.6" y="972.7" width="3.2" height="4.4"/><rect x="344.7" y="967.4" width="4.2" height="4.4"/><rect x="349.4" y="992.2" width="3.2" height="4.4"/><rect x="354.0" y="932.3" width="3.2" height="3.8"/><rect x="358.7" y="920.2" width="3.8" height="3.2"/><rect x="363.3" y="916.1" width="3.8" height="4.4"/><rect x="368.4" y="950.5" width="4.2" height="4.2"/><rect x="372.9" y="948.6" width="4.2" height="4.4"/><rect x="377.7" y="970.9" width="3.2" height="4.2"/><rect x="383.1" y="942.5" width="4.2" height="3.2"/><rect x="387.9" y="989.2" width="4.6" height="3.2"/><rect x="392.9" y="996.5" width="3.8" height="4.2"/><rect x="397.3" y="971.6" width="4.2" height="3.8"/><rect x="402.2" y="949.1" width="4.2" height="4.2"/><rect x="407.3" y="961.5" width="3.2" height="4.2"/><rect x="412.1" y="965.7" width="4.2" height="4.2"/><rect x="416.6" y="957.4" width="3.8" height="3.2"/><rect x="421.2" y="945.6" width="3.8" height="4.2"/><rect x="425.4" y="969.5" width="4.6" height="3.8"/><rect x="431.4" y="934.4" width="3.2" height="3.2"/><rect x="435.6" y="993.8" width="4.6" height="3.2"/><rect x="440.6" y="945.6" width="3.8" height="4.2"/><rect x="445.0" y="937.3" width="4.2" height="4.4"/><rect x="449.8" y="958.1" width="4.6" height="3.8"/><rect x="455.1" y="977.9" width="3.2" height="3.2"/><rect x="459.0" y="997.6" width="4.6" height="4.2"/><rect x="464.3" y="969.5" width="3.8" height="3.8"/><rect x="468.9" y="900.2" width="3.8" height="4.4"/><rect x="474.5" y="923.5" width="3.2" height="3.8"/><rect x="478.4" y="952.3" width="4.6" height="4.2"/><rect x="483.8" y="962.0" width="3.8" height="3.2"/><rect x="488.0" y="976.3" width="4.6" height="4.2"/><rect x="493.0" y="978.4" width="3.8" height="4.4"/><rect x="497.9" y="952.2" width="3.8" height="4.4"/><rect x="502.1" y="958.6" width="4.6" height="4.2"/><rect x="506.7" y="947.3" width="4.6" height="4.2"/><rect x="511.9" y="969.2" width="4.2" height="4.4"/><rect x="516.3" y="977.2" width="4.6" height="3.8"/><rect x="522.3" y="997.5" width="3.2" height="4.4"/><rect x="526.6" y="964.9" width="3.8" height="4.4"/><rect x="531.3" y="932.3" width="4.2" height="3.8"/><rect x="536.4" y="949.0" width="3.2" height="4.4"/><rect x="540.5" y="982.7" width="4.2" height="4.2"/><rect x="546.0" y="984.5" width="3.2" height="4.2"/><rect x="551.3" y="933.9" width="3.2" height="4.2"/></g>
<path d="M184 944L210.4 946L236.7 947.9L263.1 949.9L289.4 951.8L315.8 953.8L342.1 955.7L368.5 957.7L394.9 959.7L421.2 961.6L447.6 963.6L473.9 965.5L500.3 967.5L526.6 969.4L553 971.4" stroke="#e00" stroke-width="1.9" fill="none"/>
<g fill="#000">
<rect x="119.6" y="892" width="4.8" height="356"/>
<polygon points="119.6,892.5 122,889.8 124.4,892.5"/>
<rect x="114" y="1243.3" width="489" height="4.8"/>
</g>
<rect x="113.0" y="337.5" width="9" height="3" fill="#000"/>
<polygon points="116.5,297.8 121.5,295.8 121.5,299.8" fill="#000"/>
<rect x="113.0" y="255.1" width="9" height="3" fill="#000"/>
<polygon points="116.5,215.4 121.5,213.4 121.5,217.4" fill="#000"/>
<rect x="113.0" y="172.7" width="9" height="3" fill="#000"/>
<polygon points="116.5,133.0 121.5,131.0 121.5,135.0" fill="#000"/>
<rect x="113.0" y="90.3" width="9" height="3" fill="#000"/>
<polygon points="116.5,50.6 121.5,48.6 121.5,52.6" fill="#000"/>
<rect x="113.0" y="7.9" width="9" height="3" fill="#000"/>
<rect x="120.9" y="340.9" width="3.2" height="5" fill="#000"/>
<polygon points="182.6,345.9 180.6,340.9 184.6,340.9" fill="#000"/>
<rect x="241.2" y="340.9" width="3.2" height="5" fill="#000"/>
<polygon points="302.9,345.9 300.9,340.9 304.9,340.9" fill="#000"/>
<rect x="361.4" y="340.9" width="3.2" height="5" fill="#000"/>
<polygon points="423.1,345.9 421.1,340.9 425.1,340.9" fill="#000"/>
<rect x="481.6" y="340.9" width="3.2" height="5" fill="#000"/>
<polygon points="543.4,345.9 541.4,340.9 545.4,340.9" fill="#000"/>
<rect x="601.9" y="340.9" width="3.2" height="5" fill="#000"/>
<rect x="113.0" y="789.5" width="9" height="3" fill="#000"/>
<polygon points="116.5,762.0 121.5,760.0 121.5,764.0" fill="#000"/>
<rect x="113.0" y="731.4" width="9" height="3" fill="#000"/>
<polygon points="116.5,703.9 121.5,701.9 121.5,705.9" fill="#000"/>
<rect x="113.0" y="673.3" width="9" height="3" fill="#000"/>
<polygon points="116.5,645.8 121.5,643.8 121.5,647.8" fill="#000"/>
<rect x="113.0" y="615.3" width="9" height="3" fill="#000"/>
<polygon points="116.5,587.7 121.5,585.7 121.5,589.7" fill="#000"/>
<rect x="113.0" y="557.2" width="9" height="3" fill="#000"/>
<polygon points="116.5,529.6 121.5,527.6 121.5,531.6" fill="#000"/>
<rect x="113.0" y="499.1" width="9" height="3" fill="#000"/>
<polygon points="116.5,471.6 121.5,469.6 121.5,473.6" fill="#000"/>
<rect x="113.0" y="441.0" width="9" height="3" fill="#000"/>
<rect x="145.4" y="792.5" width="3.2" height="5.5" fill="#000"/>
<polygon points="204.1,797.5 202.1,792.5 206.1,792.5" fill="#000"/>
<rect x="259.5" y="792.5" width="3.2" height="5.5" fill="#000"/>
<polygon points="318.2,797.5 316.2,792.5 320.2,792.5" fill="#000"/>
<rect x="373.6" y="792.5" width="3.2" height="5.5" fill="#000"/>
<polygon points="432.2,797.5 430.2,792.5 434.2,792.5" fill="#000"/>
<rect x="487.7" y="792.5" width="3.2" height="5.5" fill="#000"/>
<polygon points="546.3,797.5 544.3,792.5 548.3,792.5" fill="#000"/>
<rect x="601.8" y="792.5" width="3.2" height="5.5" fill="#000"/>
<rect x="111.8" y="1244.0" width="9" height="3" fill="#000"/>
<polygon points="115.3,1182.5 120.3,1180.5 120.3,1184.5" fill="#000"/>
<rect x="111.8" y="1117.9" width="9" height="3" fill="#000"/>
<polygon points="115.3,1056.4 120.3,1054.4 120.3,1058.4" fill="#000"/>
<rect x="111.8" y="991.8" width="9" height="3" fill="#000"/>
<polygon points="115.3,930.2 120.3,928.2 120.3,932.2" fill="#000"/>
<rect x="167.7" y="1247.5" width="3.2" height="7" fill="#000"/>
<polygon points="265.4,1252.5 263.4,1247.5 267.4,1247.5" fill="#000"/>
<rect x="359.9" y="1247.5" width="3.2" height="7" fill="#000"/>
<polygon points="457.5,1252.5 455.5,1247.5 459.5,1247.5" fill="#000"/>
<rect x="552.0" y="1247.5" width="3.2" height="7" fill="#000"/><g style="font-family:'Liberation Sans',sans-serif;font-weight:bold" fill="#111"><text transform="translate(105.30,343.40) scale(1.0,1.07)" font-size="15.2" text-anchor="end" style="letter-spacing:1.4px" stroke="#111" stroke-width="0.3">0.300</text>
<text transform="translate(105.30,261.00) scale(1.0,1.07)" font-size="15.2" text-anchor="end" style="letter-spacing:1.4px" stroke="#111" stroke-width="0.3">0.305</text>
<text transform="translate(105.30,178.60) scale(1.0,1.07)" font-size="15.2" text-anchor="end" style="letter-spacing:1.4px" stroke="#111" stroke-width="0.3">0.310</text>
<text transform="translate(105.30,96.20) scale(1.0,1.07)" font-size="15.2" text-anchor="end" style="letter-spacing:1.4px" stroke="#111" stroke-width="0.3">0.315</text>
<text transform="translate(105.30,13.80) scale(1.0,1.07)" font-size="15.2" text-anchor="end" style="letter-spacing:1.4px" stroke="#111" stroke-width="0.3">0.320</text>
<text transform="translate(123.20,366.30) scale(1.0,1.07)" font-size="15.2" text-anchor="middle" style="letter-spacing:1.4px" stroke="#111" stroke-width="0.3">0</text>
<text transform="translate(243.45,366.30) scale(1.0,1.07)" font-size="15.2" text-anchor="middle" style="letter-spacing:1.4px" stroke="#111" stroke-width="0.3">500</text>
<text transform="translate(363.70,366.30) scale(1.0,1.07)" font-size="15.2" text-anchor="middle" style="letter-spacing:1.4px" stroke="#111" stroke-width="0.3">1000</text>
<text transform="translate(483.95,366.30) scale(1.0,1.07)" font-size="15.2" text-anchor="middle" style="letter-spacing:1.4px" stroke="#111" stroke-width="0.3">1500</text>
<text transform="translate(604.20,366.30) scale(1.0,1.07)" font-size="15.2" text-anchor="middle" style="letter-spacing:1.4px" stroke="#111" stroke-width="0.3">2000</text>
<text transform="translate(105.30,795.40) scale(1.0,1.07)" font-size="15.2" text-anchor="end" style="letter-spacing:1.4px" stroke="#111" stroke-width="0.3">0.000</text>
<text transform="translate(105.30,737.32) scale(1.0,1.07)" font-size="15.2" text-anchor="end" style="letter-spacing:1.4px" stroke="#111" stroke-width="0.3">0.002</text>
<text transform="translate(105.30,679.24) scale(1.0,1.07)" font-size="15.2" text-anchor="end" style="letter-spacing:1.4px" stroke="#111" stroke-width="0.3">0.004</text>
<text transform="translate(105.30,621.16) scale(1.0,1.07)" font-size="15.2" text-anchor="end" style="letter-spacing:1.4px" stroke="#111" stroke-width="0.3">0.006</text>
<text transform="translate(105.30,563.08) scale(1.0,1.07)" font-size="15.2" text-anchor="end" style="letter-spacing:1.4px" stroke="#111" stroke-width="0.3">0.008</text>
<text transform="translate(105.30,505.00) scale(1.0,1.07)" font-size="15.2" text-anchor="end" style="letter-spacing:1.4px" stroke="#111" stroke-width="0.3">0.010</text>
<text transform="translate(105.30,446.92) scale(1.0,1.07)" font-size="15.2" text-anchor="end" style="letter-spacing:1.4px" stroke="#111" stroke-width="0.3">0.012</text>
<text transform="translate(147.70,818.50) scale(1.0,1.07)" font-size="15.2" text-anchor="middle" style="letter-spacing:1.4px" stroke="#111" stroke-width="0.3">0</text>
<text transform="translate(261.80,818.50) scale(1.0,1.07)" font-size="15.2" text-anchor="middle" style="letter-spacing:1.4px" stroke="#111" stroke-width="0.3">500</text>
<text transform="translate(375.90,818.50) scale(1.0,1.07)" font-size="15.2" text-anchor="middle" style="letter-spacing:1.4px" stroke="#111" stroke-width="0.3">1000</text>
<text transform="translate(490.00,818.50) scale(1.0,1.07)" font-size="15.2" text-anchor="middle" style="letter-spacing:1.4px" stroke="#111" stroke-width="0.3">1500</text>
<text transform="translate(604.10,818.50) scale(1.0,1.07)" font-size="15.2" text-anchor="middle" style="letter-spacing:1.4px" stroke="#111" stroke-width="0.3">2000</text>
<text x="51.7" y="1250.6" font-size="22.5" textLength="51.3" lengthAdjust="spacingAndGlyphs">0.305</text>
<text x="51.7" y="1124.5" font-size="22.5" textLength="51.3" lengthAdjust="spacingAndGlyphs">0.310</text>
<text x="51.7" y="998.4" font-size="22.5" textLength="51.3" lengthAdjust="spacingAndGlyphs">0.315</text>
<text x="164.0" y="1279" font-size="22.5" textLength="10.4" lengthAdjust="spacingAndGlyphs">0</text>
<text x="343.6" y="1279" font-size="22.5" textLength="35.5" lengthAdjust="spacingAndGlyphs">200</text>
<text x="535.8" y="1279" font-size="22.5" textLength="35.5" lengthAdjust="spacingAndGlyphs">400</text>
<text transform="translate(266.30,396.40) scale(1.0,1.08)" font-size="19">Incubation time (sec)</text>
<text transform="translate(267.30,849.30) scale(1.0,1.08)" font-size="19">Incubation time (sec)</text>
<text transform="translate(322.00,1309.20) scale(1.0,1.08)" font-size="18.5">Time (sec)</text>
<text transform="translate(0.50,20.80) scale(1.0,1.05)" font-size="21.5">A</text>
<text transform="translate(0.50,434.50) scale(1.0,1.05)" font-size="21.5">B</text>
<text transform="translate(0.50,903.00) scale(1.0,1.05)" font-size="21.5">C</text>
<text transform="translate(43.20,236.30) rotate(-90)" font-size="20.6">Reflectivity</text>
<text transform="translate(33.50,1141.50) rotate(-90)" font-size="22">Reflectivity</text>
<text transform="translate(17.50,787.00) rotate(-90)" font-size="21.3">Reflectivity change with respect</text>
<text transform="translate(44.00,720.00) rotate(-90)" font-size="21.3">to the control trace</text></g></svg>
</body></html>
